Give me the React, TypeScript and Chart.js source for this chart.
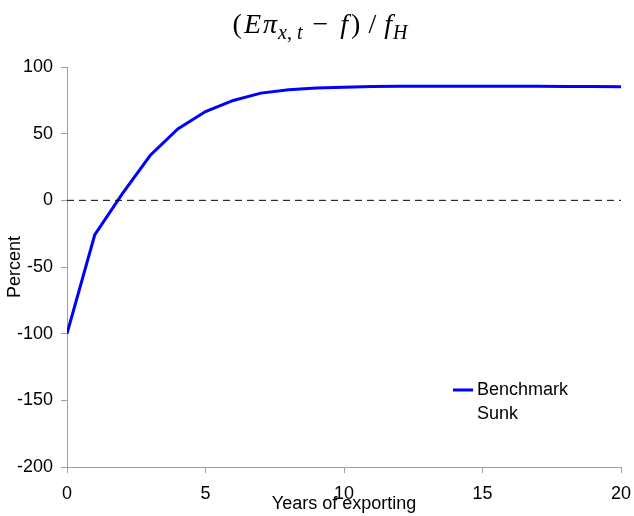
import React, { useEffect, useRef } from "react";
import { Chart, registerables } from "chart.js";

Chart.register(...registerables);

// Years since entry into exporting
const years: number[] = [0, 1, 2, 3, 4, 5, 6, 7, 8, 9, 10, 11, 12, 13, 14, 15, 16, 17, 18, 19, 20];

// Expected export profit net of fixed cost, relative to f_H (percent)
const benchmark: number[] = [
  -100, -26, 5, 33.6, 53.6, 66.6, 74.9, 80.4, 82.9, 84.2, 84.9,
  85.3, 85.5, 85.6, 85.6, 85.6, 85.5, 85.5, 85.4, 85.3, 85.2,
];

// Sunk-cost series (no points drawn)
const sunk: number[] = [];

// Reference line at zero
const zeroLineX: number[] = [0, 20];
const zeroLineY: number[] = [0, 0];

const yTicks: number[] = [-200, -150, -100, -50, 0, 50, 100];
const xTicks: number[] = [0, 5, 10, 15, 20];

const FONT = "'Liberation Sans', Arial, Helvetica, sans-serif";
const AXIS_GREY = "#a0a0a0";

const insetLegend = {
  id: "insetLegend",
  afterDraw(chart: any) {
    const ctx = chart.ctx;
    const items = chart.data.datasets.filter((d: any) => d.inLegend);
    ctx.save();
    ctx.font = `18px ${FONT}`;
    ctx.textBaseline = "middle";
    ctx.textAlign = "left";
    items.forEach((d: any, i: number) => {
      const y = 390 + i * 24.5;
      ctx.strokeStyle = d.borderColor;
      ctx.lineWidth = 3;
      ctx.beginPath();
      ctx.moveTo(453, y);
      ctx.lineTo(473, y);
      ctx.stroke();
      ctx.fillStyle = "#000";
      ctx.fillText(d.label, 477, y);
    });
    ctx.restore();
  },
};

const subStyle: React.CSSProperties = { fontSize: 20, verticalAlign: "-6px", lineHeight: 0 };

export default function App() {
  const canvasRef = useRef<HTMLCanvasElement | null>(null);

  useEffect(() => {
    const canvas = canvasRef.current;
    if (!canvas) return;
    const chart = new Chart(canvas, {
      type: "line",
      data: {
        datasets: [
          {
            label: "zero",
            data: zeroLineX.map((x, i) => ({ x, y: zeroLineY[i] })),
            borderColor: "#000",
            borderWidth: 1,
            borderDash: [7, 5],
            pointRadius: 0,
            inLegend: false,
          } as any,
          {
            label: "Benchmark",
            data: years.map((x, i) => ({ x, y: benchmark[i] })),
            borderColor: "#0000ff",
            borderWidth: 3,
            pointRadius: 0,
            tension: 0,
            inLegend: true,
          } as any,
          {
            label: "Sunk",
            data: sunk.map((y, i) => ({ x: years[i], y })),
            borderColor: "rgba(255,255,255,0)",
            borderWidth: 3,
            pointRadius: 0,
            inLegend: true,
          } as any,
        ],
      },
      options: {
        animation: false,
        responsive: false,
        devicePixelRatio: 1,
        layout: { padding: { top: 67, right: 13, left: 0, bottom: 0 } },
        plugins: {
          legend: { display: false },
          tooltip: { enabled: false },
          title: { display: false },
        },
        scales: {
          x: {
            type: "linear",
            min: 0,
            max: 20,
            afterFit: (s: any) => {
              s.height = 49;
              s.paddingLeft = 0;
              s.paddingRight = 0;
            },
            afterBuildTicks: (s: any) => {
              s.ticks = xTicks.map((v) => ({ value: v }));
            },
            ticks: {
              font: { family: FONT, size: 18 },
              color: "#000",
              padding: 10,
              maxRotation: 0,
            },
            grid: {
              drawOnChartArea: false,
              drawTicks: true,
              tickLength: 6,
              color: AXIS_GREY,
            },
            border: { color: AXIS_GREY, width: 1 },
            title: {
              display: true,
              text: "Years of exporting",
              font: { family: FONT, size: 18 },
              color: "#000",
              padding: { top: 0, bottom: 1 },
            },
          },
          y: {
            type: "linear",
            min: -200,
            max: 100,
            afterFit: (s: any) => {
              s.width = 67;
              s.paddingTop = 0;
              s.paddingBottom = 0;
            },
            afterBuildTicks: (s: any) => {
              s.ticks = yTicks.map((v) => ({ value: v }));
            },
            ticks: {
              font: { family: FONT, size: 18 },
              color: "#000",
              padding: 8,
            },
            grid: {
              drawOnChartArea: false,
              drawTicks: true,
              tickLength: 6,
              color: AXIS_GREY,
            },
            border: { color: AXIS_GREY, width: 1 },
            title: {
              display: true,
              text: "Percent",
              font: { family: FONT, size: 18 },
              color: "#000",
              padding: { top: 4.5, bottom: 0 },
            },
          },
        },
      },
      plugins: [insetLegend],
    });
    return () => chart.destroy();
  }, []);

  return (
    <div style={{ position: "absolute", left: 0, top: 0, width: 634, height: 516, background: "#fff" }}>
      <div
        style={{
          position: "absolute",
          left: 0,
          top: 9,
          width: 634,
          textAlign: "center",
          fontFamily: "'Liberation Serif', 'Times New Roman', serif",
          fontSize: 28,
          lineHeight: "30px",
          color: "#000",
          whiteSpace: "nowrap",
        }}
      >
        <span style={{ marginLeft: 6 }}>(</span>
        <i style={{ marginLeft: 2 }}>E</i>
        <i style={{ marginLeft: 2 }}>π</i>
        <sub style={subStyle}>
          <i style={{ marginLeft: 1 }}>x</i>,<i style={{ marginLeft: 5 }}>t</i>
        </sub>
        <span style={{ margin: "0 12px 0 10px" }}>−</span>
        <i style={{ marginRight: 3 }}>f</i>)
        <span style={{ margin: "0 8px" }}>/</span>
        <i>f</i>
        <sub style={subStyle}>
          <i style={{ marginLeft: 1 }}>H</i>
        </sub>
      </div>
      <canvas ref={canvasRef} width={634} height={516} style={{ display: "block" }} />
    </div>
  );
}
